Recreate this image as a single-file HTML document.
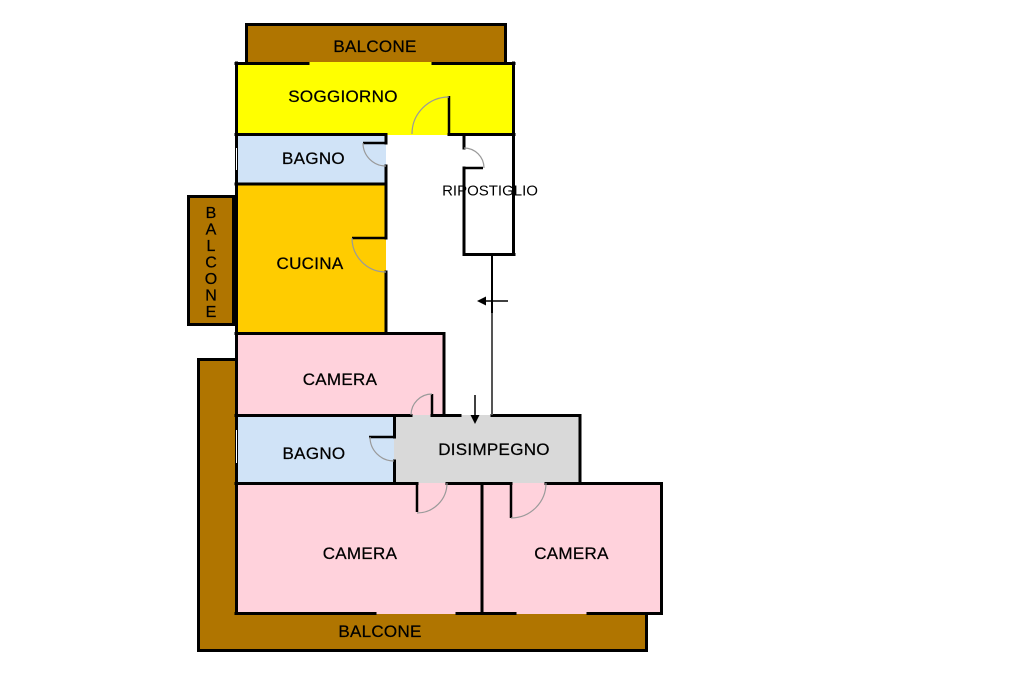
<!DOCTYPE html>
<html>
<head>
<meta charset="utf-8">
<style>
  html,body{margin:0;padding:0;background:#fff;}
  svg{display:block;}
  text{font-family:"Liberation Sans",Arial,sans-serif;fill:#000;}
</style>
</head>
<body>
<svg width="1024" height="682" viewBox="0 0 1024 682" xmlns="http://www.w3.org/2000/svg">
  <rect x="0" y="0" width="1024" height="682" fill="#fff"/>

  <!-- L-shaped balcony (bottom/left) -->
  <polygon points="197,358 236,358 236,614 648,614 648,652 197,652" fill="#b07500"/>
  <polyline points="236,359.5 198.5,359.5 198.5,650.5 646.5,650.5 646.5,613" fill="none" stroke="#000" stroke-width="3"/>

  <!-- Top balcony -->
  <rect x="245" y="23" width="262" height="41" fill="#b07500"/>
  <polyline points="246.5,63 246.5,24.5 505.5,24.5 505.5,63" fill="none" stroke="#000" stroke-width="3"/>

  <!-- Left balcony -->
  <rect x="188.5" y="196.5" width="45" height="128" fill="#b07500" stroke="#000" stroke-width="3"/>

  <!-- Room fills -->
  <rect x="235" y="62" width="280" height="73" fill="#ffff00"/>
  <rect x="235" y="135" width="151" height="49" fill="#d0e3f7"/>
  <rect x="235" y="184" width="151" height="149" fill="#ffcc00"/>
  <rect x="235" y="333" width="210" height="82" fill="#ffd2dc"/>
  <rect x="235" y="415" width="159" height="68" fill="#d0e3f7"/>
  <rect x="394" y="415" width="187" height="68" fill="#d9d9d9"/>
  <rect x="235" y="483" width="247" height="131" fill="#ffd2dc"/>
  <rect x="482" y="483" width="180" height="131" fill="#ffd2dc"/>

  <!-- Walls -->
  <g stroke="#000" stroke-width="3" fill="none" stroke-linecap="square">
    <line x1="236" y1="63.5" x2="308" y2="63.5"/>
    <line x1="433" y1="63.5" x2="514" y2="63.5"/>
    <line x1="513.5" y1="63" x2="513.5" y2="254"/>
    <line x1="236" y1="134.5" x2="386" y2="134.5"/>
    <line x1="449" y1="134.5" x2="514" y2="134.5"/>
    <line x1="236.5" y1="63" x2="236.5" y2="613"/>
    <line x1="386" y1="135" x2="386" y2="143"/>
    <line x1="386" y1="166" x2="386" y2="238"/>
    <line x1="236" y1="184" x2="386" y2="184"/>
    <line x1="386" y1="272" x2="386" y2="333"/>
    <line x1="464" y1="135" x2="464" y2="148"/>
    <line x1="464" y1="168" x2="464" y2="254.5"/>
    <line x1="464" y1="254.5" x2="514" y2="254.5"/>
    <line x1="236" y1="333.5" x2="444" y2="333.5"/>
    <line x1="444" y1="333.5" x2="444" y2="415"/>
    <line x1="236" y1="415.5" x2="411" y2="415.5"/>
    <line x1="432" y1="415.5" x2="460" y2="415.5"/>
    <line x1="492" y1="415.5" x2="580" y2="415.5"/>
    <line x1="580" y1="415.5" x2="580" y2="483"/>
    <line x1="394.5" y1="415.5" x2="394.5" y2="437"/>
    <line x1="394.5" y1="461" x2="394.5" y2="483"/>
    <line x1="236" y1="483.5" x2="417" y2="483.5"/>
    <line x1="447" y1="483.5" x2="511" y2="483.5"/>
    <line x1="546" y1="483.5" x2="661" y2="483.5"/>
    <line x1="482" y1="483.5" x2="482" y2="613"/>
    <line x1="661.5" y1="483.5" x2="661.5" y2="613.5"/>
    <line x1="236" y1="613.5" x2="375" y2="613.5"/>
    <line x1="457" y1="613.5" x2="515" y2="613.5"/>
    <line x1="588" y1="613.5" x2="661" y2="613.5"/>
  </g>

  <!-- windows -->
  <line x1="236.5" y1="148" x2="236.5" y2="170" stroke="#fff" stroke-width="1"/>
  <line x1="236.5" y1="430" x2="236.5" y2="463" stroke="#fff" stroke-width="1"/>

  <!-- Door leaves -->
  <g stroke="#000" stroke-width="2.5" fill="none">
    <line x1="449" y1="96" x2="449" y2="135"/>
    <line x1="363" y1="143" x2="386" y2="143"/>
    <line x1="352" y1="238" x2="386" y2="238"/>
    <line x1="464" y1="168" x2="483" y2="168"/>
    <line x1="432" y1="394" x2="432" y2="415"/>
    <line x1="369" y1="437" x2="394" y2="437"/>
    <line x1="417" y1="483" x2="417" y2="512"/>
    <line x1="511" y1="483" x2="511" y2="518"/>
  </g>

  <!-- Door arcs -->
  <g stroke="#9a9a9a" stroke-width="1.2" fill="none">
    <path d="M449,97 A37,37 0 0 0 412,134"/>
    <path d="M363,143 A23,23 0 0 0 386,166"/>
    <path d="M352,238 A34,34 0 0 0 386,272"/>
    <path d="M464,148 A20,20 0 0 1 484,168"/>
    <path d="M432,394 A21,21 0 0 0 411,415"/>
    <path d="M370,437 A24,24 0 0 0 394,461"/>
    <path d="M417,513 A30,30 0 0 0 447,483"/>
    <path d="M511,518 A35,35 0 0 0 546,483"/>
  </g>

  <!-- Corridor line and arrows -->
  <line x1="492" y1="255" x2="492" y2="313" stroke="#000" stroke-width="2"/>
  <line x1="492" y1="313" x2="492" y2="415" stroke="#555" stroke-width="2"/>
  <line x1="482" y1="301" x2="508" y2="301" stroke="#000" stroke-width="1.5"/>
  <polygon points="477,301 486,296.5 486,305.5" fill="#000"/>
  <line x1="475" y1="395" x2="475" y2="417" stroke="#000" stroke-width="1.5"/>
  <polygon points="475,424 470.5,415 479.5,415" fill="#000"/>

  <!-- Labels -->
  <g font-size="17" letter-spacing="0.3" text-anchor="middle" stroke="#000" stroke-width="0.25">
    <text x="375" y="52">BALCONE</text>
    <text x="343" y="102">SOGGIORNO</text>
    <text x="313.5" y="164">BAGNO</text>
    <text x="310" y="269">CUCINA</text>
    <text x="340" y="385">CAMERA</text>
    <text x="314" y="459">BAGNO</text>
    <text x="494" y="455">DISIMPEGNO</text>
    <text x="360" y="559">CAMERA</text>
    <text x="571.5" y="559">CAMERA</text>
    <text x="380" y="637">BALCONE</text>
  </g>
  <text x="490" y="195.5" font-size="15" text-anchor="middle">RIPOSTIGLIO</text>

  <!-- vertical BALCONE -->
  <g font-size="16" text-anchor="middle" stroke="#000" stroke-width="0.25">
    <text x="211" y="218">B</text>
    <text x="211" y="234.5">A</text>
    <text x="211" y="251">L</text>
    <text x="211" y="267.5">C</text>
    <text x="211" y="284">O</text>
    <text x="211" y="300.5">N</text>
    <text x="211" y="317">E</text>
  </g>
</svg>
</body>
</html>
